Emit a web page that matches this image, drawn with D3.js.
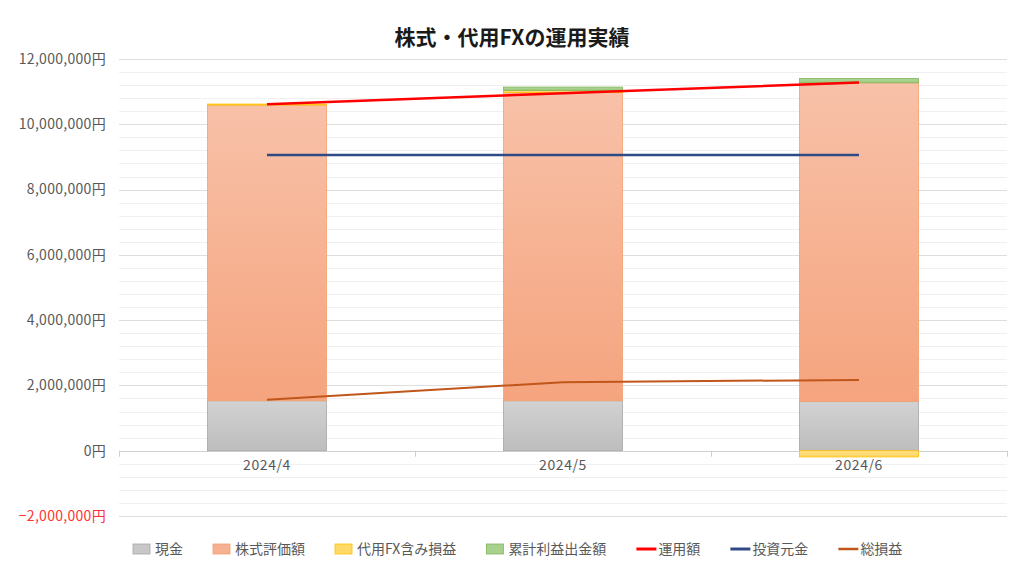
<!DOCTYPE html>
<html><head><meta charset="utf-8">
<script src="https://cdn.jsdelivr.net/npm/d3@7"></script>
<style>body{margin:0;background:#fff}svg{display:block}text{font-family:"Noto Sans CJK JP","Noto Sans",sans-serif}</style>
</head><body><svg id="c" width="1024" height="576"></svg>
<script>
const categories = ["2024/4","2024/5","2024/6"];
const cash = [1530000, 1530000, 1510000];
const stock = [9060000, 9440000, 9760000];
const fxPL = [30000, 70000, -190000];
const withdrawn = [0, 100000, 135000];
const operating = [10610000, 10950000, 11280000];
const principal = [9060000, 9060000, 9060000];
const totalPL = [1560000, 2100000, 2170000];
const yTicks = [-2000000,0,2000000,4000000,6000000,8000000,10000000,12000000];
const barNames = ["現金","株式評価額","代用FX含み損益","累計利益出金額"];
const lineNames = ["運用額","投資元金","総損益"];

const svg = d3.select("#c");
const L=119, R=1007, T=59, B=516;
const y = d3.scaleLinear().domain([-2000000,12000000]).range([B,T]);
const xb = d3.scaleBand().domain(categories).range([L,R]);

const defs = svg.append("defs");
function grad(id,c1,c2){const g=defs.append("linearGradient").attr("id",id).attr("x1",0).attr("y1",0).attr("x2",0).attr("y2",1);
 g.append("stop").attr("offset","0%").attr("stop-color",c1);g.append("stop").attr("offset","100%").attr("stop-color",c2);}
grad("gCash","#d2d2d2","#bdbdbd");
grad("gStock","#f8c1a8","#f5a47e");
grad("gFx","#ffe08a","#ffd45e");
grad("gGr","#b0d698","#9ccb7e");
const fills=["url(#gCash)","url(#gStock)","url(#gFx)","url(#gGr)"];
const strokes=["#a6a6a6","#f4a06e","#ffc000","#80b55a"];
const swatchFill=["#c8c8c8","#f6b092","#ffd966","#a9d18e"];

const minor = d3.range(-2000000,12000001,400000).filter(v=>v%2000000!==0);
svg.append("g").selectAll("line").data(minor).join("line")
 .attr("x1",L).attr("x2",R).attr("y1",d=>Math.round(y(d))+0.5).attr("y2",d=>Math.round(y(d))+0.5)
 .attr("stroke","#f0f0f0").attr("stroke-width",1);
svg.append("g").selectAll("line").data(yTicks).join("line")
 .attr("x1",L).attr("x2",R).attr("y1",d=>Math.round(y(d))+0.5).attr("y2",d=>Math.round(y(d))+0.5)
 .attr("stroke",d=>d===0?"#d0d0d0":"#dedede").attr("stroke-width",1);
svg.append("g").selectAll("line").data(categories.concat(["_end"])).join("line")
 .attr("x1",(d,i)=>Math.round(L+i*xb.bandwidth())+0.5).attr("x2",(d,i)=>Math.round(L+i*xb.bandwidth())+0.5)
 .attr("y1",y(0)).attr("y2",y(0)+6).attr("stroke","#d0d0d0");

svg.append("g").selectAll("text").data(yTicks).join("text")
 .attr("x",106).attr("y",d=>y(d)).attr("dy","0.35em").attr("text-anchor","end")
 .attr("font-size",14).attr("letter-spacing",0.3).attr("fill",d=>d<0?"#ff3333":"#595959")
 .text(d=>d3.format(",")(d)+"円");
svg.append("g").selectAll("text").data(categories).join("text")
 .attr("x",d=>xb(d)+xb.bandwidth()/2).attr("y",470).attr("text-anchor","middle")
 .attr("font-size",14).attr("letter-spacing",0.6).attr("fill","#595959").text(d=>d);

const rows = categories.map((c,i)=>({cat:c,k0:cash[i],k1:stock[i],k2:fxPL[i],k3:withdrawn[i]}));
const stack = d3.stack().keys(["k0","k1","k2","k3"]).offset(d3.stackOffsetDiverging)(rows);
const bw=119;
stack.forEach((s,si)=>{
 svg.append("g").selectAll("rect").data(s.filter(d=>d[1]!==d[0])).join("rect")
  .attr("x",d=>xb(d.data.cat)+xb.bandwidth()/2-bw/2)
  .attr("y",d=>y(Math.max(d[0],d[1])))
  .attr("width",bw)
  .attr("height",d=>Math.max(1,Math.abs(y(d[0])-y(d[1]))))
  .attr("fill",fills[si]).attr("stroke",strokes[si]).attr("stroke-width",0.8);
});

const lineData=[operating,principal,totalPL];
const lineColors=["#ff0000","#2f4a85","#c0561a"];
const lineW=[2.5,2.5,2];
const lg=d3.line().x((d,i)=>xb(categories[i])+xb.bandwidth()/2).y(d=>y(d));
lineData.forEach((ld,i)=>{
 svg.append("path").attr("d",lg(ld)).attr("fill","none").attr("stroke",lineColors[i]).attr("stroke-width",lineW[i]);
});

svg.append("text").attr("x",512).attr("y",38).attr("dy","0.35em").attr("text-anchor","middle").attr("font-size",21).attr("font-weight","bold")
 .attr("fill","#1a1a1a").text("株式・代用FXの運用実績");

const leg = svg.append("g");
const legItems = barNames.map((n,i)=>({n,type:"bar",i})).concat(lineNames.map((n,i)=>({n,type:"line",i})));
let lx=133; const ly=549;
legItems.forEach(it=>{
 if(it.type==="bar"){
  leg.append("rect").attr("x",lx).attr("y",ly-5).attr("width",17).attr("height",10)
   .attr("fill",swatchFill[it.i]).attr("stroke",strokes[it.i]).attr("stroke-width",0.8);
 } else {
  leg.append("line").attr("x1",lx).attr("x2",lx+20).attr("y1",ly).attr("y2",ly)
   .attr("stroke",lineColors[it.i]).attr("stroke-width",lineW[it.i]+0.5);
 }
 const t=leg.append("text").attr("x",lx+22).attr("y",ly).attr("dy","0.35em").attr("font-size",14).attr("fill","#595959").text(it.n);
 lx += 22 + t.node().getComputedTextLength() + 30;
});
</script></body></html>
